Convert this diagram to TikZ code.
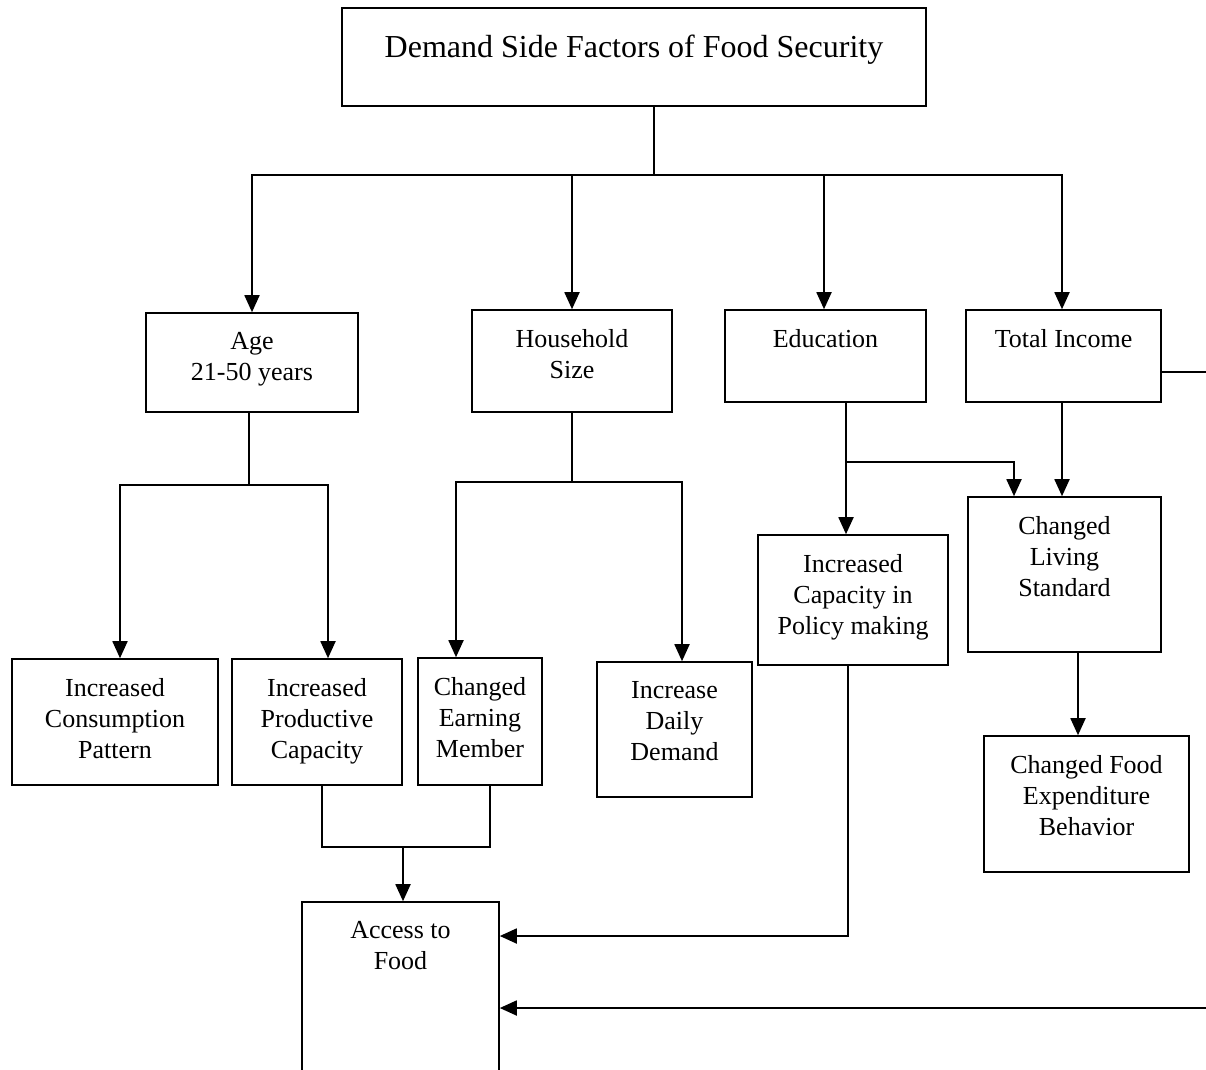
\documentclass[tikz,border=0pt]{standalone}
\usepackage{fontspec}
\setmainfont{Liberation Serif}
\usetikzlibrary{arrows.meta,positioning}

\tikzset{
  box/.style={draw,line width=1.6pt,inner sep=0pt},
  lbl/.style={anchor=north,yshift=-16pt,align=center,font=\fontsize{26}{31}\selectfont},
  arr/.style={-{Triangle[length=17pt,width=15pt]}},
}

\begin{document}
\begin{tikzpicture}[x=1pt,y=-1pt,line width=1.8pt]
\clip (0,0) rectangle (1206,1069);
\fill[white] (0,0) rectangle (1206,1069);

% boxes
\node[box,minimum width=584pt,minimum height=98pt,label={[lbl,font=\fontsize{32}{38}\selectfont,yshift=-8pt]north:Demand Side Factors of Food Security}] (title) at (634,57) {};
\node[box,minimum width=212pt,minimum height=99pt,label={[lbl]north:Age\\21-50 years}] (age) at (252,362.5) {};
\node[box,minimum width=200pt,minimum height=102pt,label={[lbl]north:Household\\Size}] (hh) at (572,361) {};
\node[box,minimum width=201pt,minimum height=92pt,label={[lbl]north:Education}] (edu) at (825.5,356) {};
\node[box,minimum width=195pt,minimum height=92pt,label={[lbl]north:Total Income}] (inc) at (1063.5,356) {};
\node[box,minimum width=206pt,minimum height=126pt,label={[lbl]north:Increased\\Consumption\\Pattern}] (cons) at (115,722) {};
\node[box,minimum width=170pt,minimum height=126pt,label={[lbl]north:Increased\\Productive\\Capacity}] (prod) at (317,722) {};
\node[box,minimum width=124pt,minimum height=127pt,label={[lbl]north:Changed\\Earning\\Member}] (earn) at (480,721.5) {};
\node[box,minimum width=155pt,minimum height=135pt,label={[lbl]north:Increase\\Daily\\Demand}] (daily) at (674.5,729.5) {};
\node[box,minimum width=190pt,minimum height=130pt,label={[lbl]north:Increased\\Capacity in\\Policy making}] (pol) at (853,600) {};
\node[box,minimum width=193pt,minimum height=155pt,label={[lbl]north:Changed\\Living\\Standard}] (liv) at (1064.5,574.5) {};
\node[box,minimum width=205pt,minimum height=136pt,label={[lbl]north:Changed Food\\Expenditure\\Behavior}] (food) at (1086.5,804) {};
\node[box,minimum width=197pt,minimum height=198pt,label={[lbl]north:Access to\\Food}] (access) at (400.5,1001) {};

% from the title
\coordinate (bus) at (654,175);
\draw (title.south -| bus) -- (bus);
\draw[arr] (bus) -| (age.north);
\draw[arr] (bus) -| (hh.north);
\draw[arr] (bus) -| ([xshift=-1.5pt]edu.north);
\draw[arr] (bus) -| ([xshift=-1.5pt]inc.north);

% age
\coordinate (agej) at (249,485);
\draw (age.south -| agej) -- (agej);
\draw[arr] (agej) -| ([xshift=5pt]cons.north);
\draw[arr] (agej) -| ([xshift=11pt]prod.north);

% household size
\coordinate (hhj) at (572,482);
\draw (hh.south) -- (hhj);
\draw[arr] (hhj) -| ([xshift=-24pt]earn.north);
\draw[arr] (hhj) -| ([xshift=7.5pt]daily.north);

% education and income
\coordinate (eduj) at (846,462);
\draw[arr] (edu.south -| eduj) -- (pol.north -| eduj);
\draw[arr] (eduj) -| ([xshift=-50.5pt]liv.north);
\draw[arr] ([xshift=-1.5pt]inc.south) -- ([xshift=-2.5pt]liv.north);
\draw[arr] ([xshift=13.5pt]liv.south) -- ([xshift=-8.5pt]food.north);

% to access
\coordinate (accj) at (403,847);
\draw ([xshift=5pt]prod.south) |- (accj);
\draw ([xshift=10pt]earn.south) |- (accj);
\draw[arr] (accj) -- (accj |- access.north);
\coordinate (polj) at (848,936);
\draw[arr] (pol.south -| polj) -- (polj) -- (access.east |- polj);
\coordinate (incout) at (1206,372);
\draw (inc.east |- incout) -- (incout);
\coordinate (accin) at (1206,1008);
\draw[arr] (accin) -- (access.east |- accin);
\end{tikzpicture}
\end{document}
